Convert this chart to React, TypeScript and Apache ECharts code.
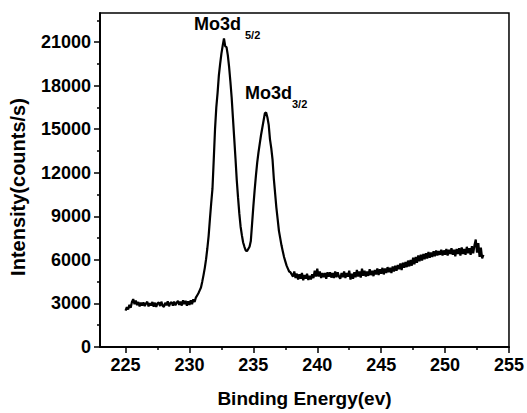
import React, { useEffect, useRef } from "react";
import * as echarts from "echarts";

// Binding energy (eV) vs intensity (counts/s)
const preEdge: [number, number][] = [
  [225.0, 2500], [225.1, 2750], [225.2, 2580], [225.3, 2900], [225.4, 2700],
  [225.5, 3100], [225.6, 3300], [225.7, 2950], [225.8, 3200], [225.9, 2880],
  [226.0, 3100], [226.1, 2800], [226.2, 3050], [226.3, 2850], [226.4, 3080],
  [226.5, 2820], [226.6, 3000], [226.7, 3120], [226.8, 2800], [226.9, 3020],
  [227.0, 2850], [227.1, 3100], [227.2, 2780], [227.3, 3050], [227.4, 2760],
  [227.5, 3000], [227.6, 3080], [227.7, 2820], [227.8, 3120], [227.9, 2850],
  [228.0, 2760], [228.1, 3050], [228.2, 2870], [228.3, 3150], [228.4, 2800],
  [228.5, 3020], [228.6, 3100], [228.7, 2840], [228.8, 3120], [228.9, 2870],
  [229.0, 3050], [229.1, 3180], [229.2, 2900], [229.3, 3120], [229.4, 2850],
  [229.5, 3220], [229.6, 2950], [229.7, 3180], [229.8, 2840], [229.9, 3150],
  [230.0, 2900], [230.1, 3220], [230.2, 2950], [230.3, 3280], [230.4, 3100],
];

const mo3dPeaks: [number, number][] = [
  [230.5, 3400], [230.6, 3550], [230.7, 3700], [230.8, 3900], [230.9, 4100],
  [231.0, 4500], [231.1, 4950], [231.2, 5450], [231.3, 6050], [231.4, 6800],
  [231.5, 7650], [231.6, 8800], [231.7, 9900], [231.8, 10900], [231.9, 12900],
  [232.0, 15000], [232.1, 16500], [232.2, 17500], [232.3, 18700], [232.4, 19500],
  [232.5, 20200], [232.6, 20750], [232.7, 21250], [232.8, 20700], [232.9, 20650],
  [233.0, 20100], [233.1, 19300], [233.2, 18300], [233.3, 17200], [233.4, 15800],
  [233.5, 14400], [233.6, 13000], [233.7, 11500], [233.8, 10300], [233.9, 9200],
  [234.0, 8300], [234.1, 7700], [234.2, 7200], [234.3, 6900], [234.4, 6650],
  [234.5, 6600], [234.6, 6750], [234.7, 6900], [234.8, 7300], [234.9, 8500],
  [235.0, 9700], [235.1, 10800], [235.2, 11800], [235.3, 12700], [235.4, 13400],
  [235.5, 14000], [235.6, 14600], [235.7, 15100], [235.8, 15600], [235.9, 16100],
  [236.0, 16150], [236.1, 15800], [236.2, 15300], [236.3, 14300], [236.4, 13700],
  [236.5, 12900], [236.6, 11600], [236.7, 10600], [236.8, 9600], [236.9, 8800],
  [237.0, 8000], [237.1, 7500], [237.2, 7000], [237.3, 6600], [237.4, 6200],
  [237.5, 5900], [237.6, 5600], [237.7, 5400], [237.8, 5200], [237.9, 5150],
  [238.0, 5000],
];

const postEdgeTail: [number, number][] = [
  [238.1, 4850], [238.2, 5200], [238.3, 4750], [238.4, 5050], [238.5, 4650],
  [238.6, 5000], [238.7, 4700], [238.8, 5100], [238.9, 4600], [239.0, 4950],
  [239.1, 4700], [239.2, 5050], [239.3, 4620], [239.4, 4900], [239.5, 4650],
  [239.6, 5000], [239.7, 4750], [239.8, 5250], [239.9, 4850], [240.0, 5400],
  [240.1, 4850], [240.2, 5200], [240.3, 4750], [240.4, 5100], [240.5, 4800],
  [240.6, 5100], [240.7, 4700], [240.8, 5150], [240.9, 4850], [241.0, 5150],
  [241.1, 4780], [241.2, 5100], [241.3, 4750], [241.4, 5200], [241.5, 4800],
  [241.6, 5150], [241.7, 4850], [241.8, 4700], [241.9, 5100], [242.0, 4800],
  [242.1, 5200], [242.2, 4750], [242.3, 5100], [242.4, 4850], [242.5, 5250],
  [242.6, 4650], [242.7, 5050], [242.8, 4700], [242.9, 5150], [243.0, 4800],
  [243.1, 5300], [243.2, 4850], [243.3, 5200], [243.4, 4780], [243.5, 5400],
  [243.6, 4900], [243.7, 5250], [243.8, 4850], [243.9, 5200], [244.0, 4900],
  [244.1, 5350], [244.2, 4950], [244.3, 5250], [244.4, 4880], [244.5, 5300],
  [244.6, 5000], [244.7, 5400], [244.8, 4950], [244.9, 5350], [245.0, 5050],
  [245.1, 5450], [245.2, 5000], [245.3, 5400], [245.4, 5100], [245.5, 5500],
  [245.6, 5150], [245.7, 5450], [245.8, 5100], [245.9, 5550], [246.0, 5200],
  [246.1, 5600], [246.2, 5250], [246.3, 5650], [246.4, 5350], [246.5, 5750],
  [246.6, 5300], [246.7, 5800], [246.8, 5450], [246.9, 5850], [247.0, 5500],
  [247.1, 5950], [247.2, 5550], [247.3, 6000], [247.4, 5600], [247.5, 6150],
  [247.6, 5700], [247.7, 6200], [247.8, 5800], [247.9, 6300], [248.0, 5900],
  [248.1, 6350], [248.2, 5950], [248.3, 6400], [248.4, 6050], [248.5, 6450],
  [248.6, 6100], [248.7, 6550], [248.8, 6150], [248.9, 6500], [249.0, 6200],
  [249.1, 6600], [249.2, 6250], [249.3, 6650], [249.4, 6300], [249.5, 6600],
  [249.6, 6350], [249.7, 6700], [249.8, 6300], [249.9, 6650], [250.0, 6350],
  [250.1, 6750], [250.2, 6300], [250.3, 6700], [250.4, 6400], [250.5, 6800],
  [250.6, 6350], [250.7, 6700], [250.8, 6250], [250.9, 6750], [251.0, 6400],
  [251.1, 6800], [251.2, 6300], [251.3, 6850], [251.4, 6400], [251.5, 6750],
  [251.6, 6350], [251.7, 6900], [251.8, 6450], [251.9, 6800], [252.0, 6350],
  [252.1, 6950], [252.2, 6450], [252.3, 7000], [252.4, 7400], [252.5, 6500],
  [252.6, 7150], [252.7, 6200], [252.8, 6850], [252.9, 6100], [253.0, 6350],
];

const xMajorTicks = [225, 230, 235, 240, 245, 250, 255];
const xMinorTicks = [227.5, 232.5, 237.5, 242.5, 247.5, 252.5];
const yMajorTicks = [0, 3000, 6000, 9000, 12000, 15000, 18000, 21000];
const yMinorTicks = [1500, 4500, 7500, 10500, 13500, 16500, 19500, 22500];

const xTitle = "Binding Energy(ev)";
const yTitle = "Intensity(counts/s)";
const peakLabels = [
  { main: "Mo3d", sub: "5/2" },
  { main: "Mo3d", sub: "3/2" },
];

const FONT = "'Liberation Sans', Arial, Helvetica, sans-serif";

export default function App() {
  const ref = useRef<HTMLDivElement>(null);

  useEffect(() => {
    if (!ref.current) return;
    const chart = echarts.init(ref.current, undefined, { renderer: "svg" });
    const data = [...preEdge, ...mo3dPeaks, ...postEdgeTail];

    const axisLine = { show: true, lineStyle: { color: "#000", width: 1.5 } };
    const labelStyle = {
      color: "#000",
      fontFamily: FONT,
      fontWeight: 700,
      fontSize: 18,
    };
    const plain = (v: number) => String(v);

    chart.setOption({
      animation: false,
      backgroundColor: "#fff",
      grid: {
        left: 99,
        top: 13,
        right: 17,
        bottom: 65,
        show: true,
        borderColor: "#000",
        borderWidth: 1.5,
        backgroundColor: "transparent",
      },
      xAxis: [
        {
          type: "value",
          min: 223,
          max: 255,
          interval: 5,
          axisLine,
          splitLine: { show: false },
          axisTick: {
            show: true,
            inside: false,
            length: 6,
            customValues: xMajorTicks,
            lineStyle: { color: "#000", width: 1.5 },
          },
          axisLabel: {
            ...labelStyle,
            margin: 9,
            formatter: plain,
            customValues: xMajorTicks,
          },
          name: xTitle,
          nameLocation: "middle",
          nameGap: 42,
          nameTextStyle: { ...labelStyle, fontSize: 19 },
        },
        {
          type: "value",
          min: 223,
          max: 255,
          position: "bottom",
          offset: 0,
          axisLine,
          splitLine: { show: false },
          axisTick: {
            show: true,
            length: 3,
            customValues: xMinorTicks,
            lineStyle: { color: "#000", width: 1.5 },
          },
          axisLabel: { show: false },
        },
      ],
      yAxis: [
        {
          type: "value",
          min: 0,
          max: 23000,
          interval: 3000,
          axisLine,
          splitLine: { show: false },
          axisTick: {
            show: true,
            length: 6,
            customValues: yMajorTicks,
            lineStyle: { color: "#000", width: 1.5 },
          },
          axisLabel: {
            ...labelStyle,
            margin: 9,
            formatter: plain,
            customValues: yMajorTicks,
          },
          name: yTitle,
          nameLocation: "middle",
          nameGap: 72,
          nameTextStyle: { ...labelStyle, fontSize: 20, padding: [0, 14, 0, 0] },
        },
        {
          type: "value",
          min: 0,
          max: 23000,
          position: "left",
          offset: 0,
          axisLine,
          splitLine: { show: false },
          axisTick: {
            show: true,
            length: 3,
            customValues: yMinorTicks,
            lineStyle: { color: "#000", width: 1.5 },
          },
          axisLabel: { show: false },
        },
      ],
      series: [
        {
          type: "line",
          xAxisIndex: 0,
          yAxisIndex: 0,
          data,
          showSymbol: false,
          symbol: "none",
          lineStyle: { color: "#000", width: 2.2 },
          z: 3,
        },
      ],
      graphic: [
        {
          type: "text",
          left: 194,
          top: 15,
          style: { text: peakLabels[0].main, font: `bold 18px ${FONT}`, fill: "#000" },
        },
        {
          type: "text",
          left: 245,
          top: 29,
          style: { text: peakLabels[0].sub, font: `bold 11px ${FONT}`, fill: "#000" },
        },
        {
          type: "text",
          left: 245,
          top: 84,
          style: { text: peakLabels[1].main, font: `bold 18px ${FONT}`, fill: "#000" },
        },
        {
          type: "text",
          left: 292,
          top: 98,
          style: { text: peakLabels[1].sub, font: `bold 11px ${FONT}`, fill: "#000" },
        },
      ],
    });

    return () => chart.dispose();
  }, []);

  return (
    <div
      ref={ref}
      style={{ position: "absolute", left: 0, top: 0, width: 527, height: 413 }}
    />
  );
}
